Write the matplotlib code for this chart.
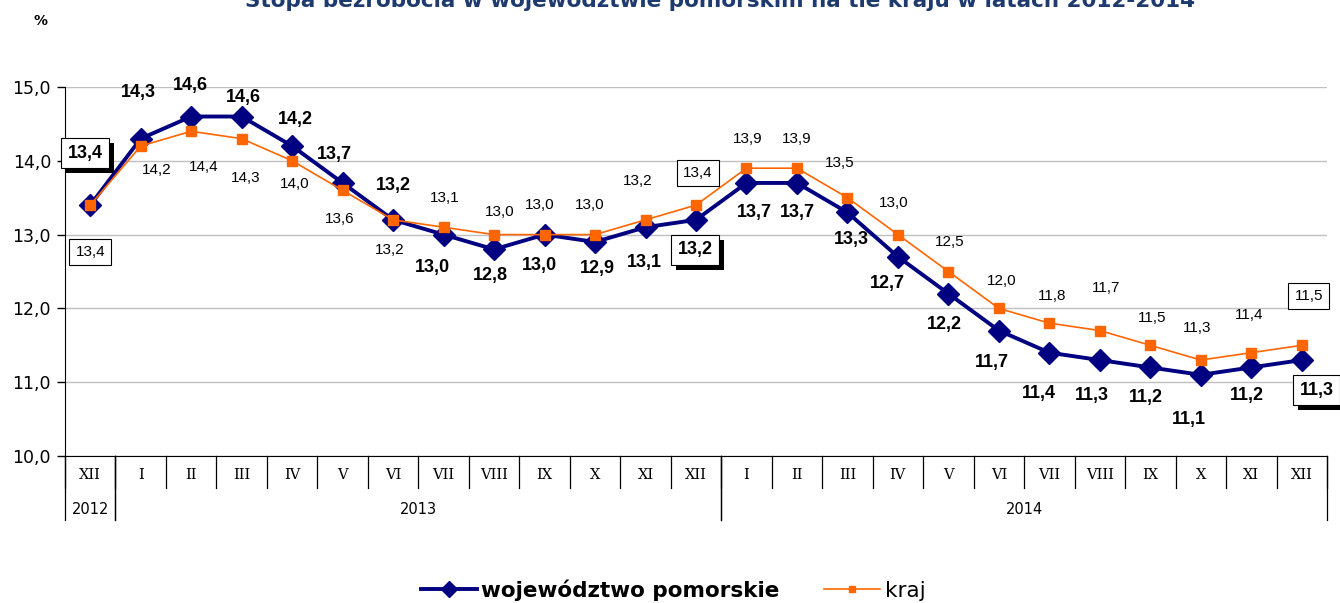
import numpy as np
import matplotlib
matplotlib.use("Agg")
from matplotlib import pyplot as plt
import matplotlib.transforms as mtransforms
from matplotlib.patches import Rectangle

months = ["XII", "I", "II", "III", "IV", "V", "VI", "VII", "VIII", "IX", "X", "XI", "XII",
          "I", "II", "III", "IV", "V", "VI", "VII", "VIII", "IX", "X", "XI", "XII"]
years = ["2012", "2013", "2014"]
year_span = [(0, 0), (1, 12), (13, 24)]

pomorskie = [13.4, 14.3, 14.6, 14.6, 14.2, 13.7, 13.2, 13.0, 12.8, 13.0, 12.9, 13.1, 13.2,
             13.7, 13.7, 13.3, 12.7, 12.2, 11.7, 11.4, 11.3, 11.2, 11.1, 11.2, 11.3]
kraj = [13.4, 14.2, 14.4, 14.3, 14.0, 13.6, 13.2, 13.1, 13.0, 13.0, 13.0, 13.2, 13.4,
        13.9, 13.9, 13.5, 13.0, 12.5, 12.0, 11.8, 11.7, 11.5, 11.3, 11.4, 11.5]

# label offsets in pixels (dx, dy)
off_pom = [(-5, 52), (-2, 46), (-1, 31), (2, 19), (3, 27), (-8, 28), (0, 34), (-11, -33),
           (-4, -26), (-5, -31), (2, -27), (-1, -35), (-1, -30), (8, -30), (0, -30),
           (4, -27), (-11, -27), (-4, -31), (-7, -32), (-10, -41), (-8, -35), (-4, -30),
           (-12, -45), (-4, -28), (15, -30)]
off_kraj = [(0, -47), (16, -24), (12, -36), (4, -39), (3, -23), (-3, -29), (-3, -30),
            (1, 29), (6, 23), (-5, 30), (-5, 30), (-8, 39), (2, 32), (1, 29), (0, 29),
            (-8, 35), (-4, 32), (1, 30), (3, 27), (3, 27), (6, 43), (2, 27), (-4, 32),
            (-2, 38), (7, 49)]
boxed = [0, 12, 24]

navy = "#000080"
orange = "#FF6600"
lab_font = "Liberation Sans"

fig = plt.figure(figsize=(13.4, 6.03), dpi=100)
ax = fig.add_axes([65 / 1340, 147 / 603, (1327 - 65) / 1340, 369 / 603])

x = np.arange(len(months))
ax.plot(x, pomorskie, color=navy, lw=2.8, marker="D", ms=11, zorder=3,
        label="województwo pomorskie")
ax.plot(x, kraj, color=orange, lw=1.2, marker="s", ms=6.5, zorder=4, label="kraj")

ax.set_xlim(-0.5, len(months) - 0.5)
ax.set_ylim(10, 15)
ax.set_yticks(np.arange(10, 15.01, 1))
ax.set_yticklabels([f"{v:.1f}".replace(".", ",") for v in np.arange(10, 15.01, 1)],
                   fontsize=12.5)
ax.yaxis.grid(True, color="#C0C0C0", lw=1)
ax.set_axisbelow(True)
ax.set_xticks([])
for s in ["top", "right"]:
    ax.spines[s].set_visible(False)
ax.tick_params(axis="y", length=6, width=1, pad=4)

fmt = lambda v: f"{v:.1f}".replace(".", ",")

shadowed = []
for i, v in enumerate(pomorskie):
    dx, dy = off_pom[i]
    kw = {}
    if i in boxed:
        kw["bbox"] = dict(boxstyle="square,pad=0.35", fc="white", ec="black", lw=0.8)
    t = ax.annotate(fmt(v), (i, v), xytext=(dx, dy), textcoords="offset pixels",
                    ha="center", va="center", fontsize=13, fontweight="bold",
                    family=lab_font, annotation_clip=False, zorder=6, **kw)
    if i in boxed:
        shadowed.append(t)

for i, v in enumerate(kraj):
    dx, dy = off_kraj[i]
    kw = {}
    if i in boxed:
        kw["bbox"] = dict(boxstyle="square,pad=0.4", fc="white", ec="black", lw=0.8)
    ax.annotate(fmt(v), (i, v), xytext=(dx, dy), textcoords="offset pixels",
                ha="center", va="center", fontsize=11, family=lab_font,
                annotation_clip=False, zorder=5, **kw)

# category axis
trans = mtransforms.blended_transform_factory(ax.transData, ax.transAxes)
row1 = -32 / 369
row2 = -64 / 369
for i, m in enumerate(months):
    ax.text(i, -19 / 369, m, transform=trans, ha="center", va="center",
            fontsize=10.5, family="DejaVu Serif")
for k in range(len(months) + 1):
    ax.plot([k - 0.5, k - 0.5], [0, row1], transform=trans, color="black", lw=0.9,
            clip_on=False)
for (a, b), yr in zip(year_span, years):
    ax.text((a + b) / 2, -53 / 369, yr, transform=trans, ha="center", va="center",
            fontsize=10.5)
    for xe in (a - 0.5, b + 0.5):
        ax.plot([xe, xe], [0, row2], transform=trans, color="black", lw=0.9,
                clip_on=False)

fig.text(720 / 1340, 1.0, "Stopa bezrobocia w województwie pomorskim na tle kraju w latach 2012-2014",
         ha="center", va="center", fontsize=15.5, fontweight="bold", color="#1F3A6E")
fig.text(40 / 1340, 1 - 21 / 603, "%", ha="center", va="center", fontsize=10,
         fontweight="bold")

leg = fig.legend(loc="center", bbox_to_anchor=(673 / 1340, 1 - 590 / 603), ncol=2,
                 frameon=False, fontsize=15.5, handlelength=2.6, columnspacing=2.1,
                 handletextpad=0.2, markerscale=0.7)
leg.get_texts()[0].set_fontweight("bold")

# black drop shadows behind boxed labels
fig.canvas.draw()
for t in shadowed:
    bb = t.get_bbox_patch().get_window_extent()
    ax.add_patch(Rectangle((bb.x0 + 5, bb.y0 - 5), bb.width, bb.height,
                           transform=mtransforms.IdentityTransform(), fc="black",
                           ec="none", zorder=5.5, clip_on=False))

fig.savefig("out.png", dpi=100)
